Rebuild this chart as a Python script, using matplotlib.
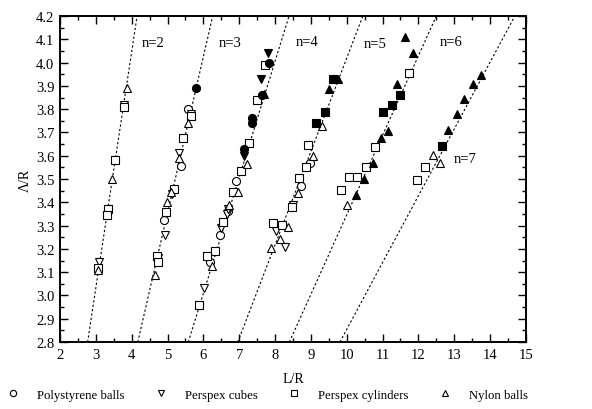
#!/usr/bin/env python3

import numpy as np
import matplotlib
matplotlib.use('Agg')
import matplotlib.pyplot as plt
from matplotlib.lines import Line2D
from matplotlib.ticker import MultipleLocator

plt.rcParams['font.family'] = ['Liberation Serif', 'DejaVu Serif']
plt.rcParams['font.size'] = 9.2

# dotted guide lines, L/R at A/R = 2.8 and at A/R = 4.2
line_n = [2, 3, 4, 5, 6, 7]
line_L_bottom = [2.77, 4.17, 5.58, 6.96, 8.40, 9.81]
line_L_top = [4.15, 6.26, 8.39, 10.45, 12.50, 14.69]
line_A = [2.8, 4.2]

label_txt = ['n=2', 'n=3', 'n=4', 'n=5', 'n=6', 'n=7']
label_L = [4.6, 6.74, 8.9, 10.79, 12.9, 13.3]
label_A = [4.087, 4.087, 4.09, 4.08, 4.09, 3.59]

# open markers (L/R, Λ/R)
poly_L = [5.56, 5.37, 4.90, 6.91, 6.70, 6.46, 6.18, 8.97, 8.71]
poly_A = [3.80, 3.557, 3.325, 3.49, 3.364, 3.26, 3.145, 3.57, 3.47]

cube_L = [3.79, 3.53, 3.35, 3.10, 5.65, 5.32, 5.13, 4.93, 4.72,
          6.65, 6.49, 6.02, 6.70, 8.04, 8.28, 8.50]
cube_A = [3.82, 3.58, 3.37, 3.145, 3.78, 3.61, 3.435, 3.26, 3.16,
          3.35, 3.288, 3.03, 3.37, 3.278, 3.207, 3.39]

cyl_L = [3.79, 3.53, 3.35, 3.30, 3.07,
         5.65, 5.42, 5.18, 4.96, 4.70, 4.72,
         7.72, 7.50, 7.28, 7.04, 6.83, 6.56, 6.32, 6.09, 5.89,
         8.93, 8.86, 8.68, 8.46, 7.95, 8.20,
         11.73, 10.79, 10.54, 10.07, 10.28, 9.84,
         11.95, 12.18]
cyl_A = [3.81, 3.58, 3.37, 3.345, 3.12,
         3.77, 3.675, 3.457, 3.357, 3.168, 3.145,
         3.99, 3.84, 3.654, 3.535, 3.445, 3.317, 3.19, 3.17, 2.96,
         3.646, 3.55, 3.504, 3.378, 3.31, 3.304,
         3.955, 3.636, 3.553, 3.507, 3.507, 3.453,
         3.496, 3.55]

nylon_L = [3.86, 3.46, 3.07,
           5.58, 5.32, 5.10, 4.99, 4.65,
           7.21, 6.97, 6.72, 6.23,
           9.30, 9.07, 8.63, 8.37, 8.14, 7.88,
           10.00,
           12.41, 12.60]
nylon_A = [3.893, 3.50, 3.11,
           3.74, 3.59, 3.445, 3.40, 3.088,
           3.564, 3.443, 3.388, 3.125,
           3.726, 3.60, 3.44, 3.295, 3.242, 3.204,
           3.388,
           3.603, 3.567]

# filled markers
fcirc_L = [5.79, 7.83, 7.63, 7.36, 7.37, 7.13]
fcirc_A = [3.89, 3.998, 3.86, 3.76, 3.74, 3.63]

fdown_L = [7.81, 7.60, 7.13]
fdown_A = [4.04, 3.93, 3.60]

fsq_L = [9.62, 9.39, 9.14, 11.48, 11.27, 11.02, 12.67]
fsq_A = [3.93, 3.79, 3.74, 3.86, 3.82, 3.79, 3.643]

fup_L = [7.68, 9.76, 9.51,
         11.62, 11.84, 11.39, 11.16, 10.95, 10.72, 10.49, 10.25,
         12.83, 13.07, 13.28, 13.51, 13.76]
fup_A = [3.865, 3.93, 3.886,
         4.11, 4.04, 3.91, 3.707, 3.675, 3.57, 3.50, 3.43,
         3.71, 3.78, 3.843, 3.91, 3.946]

fig = plt.figure(figsize=(5.92, 4.10), dpi=100)
ax = fig.add_axes([0.1014, 0.1634, 0.787, 0.795])

for lb, lt in zip(line_L_bottom, line_L_top):
    ax.plot([lb, lt], line_A, color='k', lw=0.8, ls=(0, (2.0, 2.0)))

ms = 5.8
mew = 0.8
op = dict(ls='none', mfc='white', mec='k', ms=ms, mew=mew)
fl = dict(ls='none', mfc='k', mec='k', ms=ms, mew=mew)
ax.plot(poly_L, poly_A, marker='o', **op)
ax.plot(cube_L, cube_A, marker='v', **op)
ax.plot(cyl_L, cyl_A, marker='s', **op)
ax.plot(nylon_L, nylon_A, marker='^', **op)
ax.plot(fcirc_L, fcirc_A, marker='o', **fl)
ax.plot(fdown_L, fdown_A, marker='v', **fl)
ax.plot(fsq_L, fsq_A, marker='s', **fl)
ax.plot(fup_L, fup_A, marker='^', **fl)

for t, x, y in zip(label_txt, label_L, label_A):
    ax.text(x, y, t, ha='center', va='center', fontsize=10.5)

ax.set_xlim(2, 15)
ax.set_ylim(2.8, 4.2)
ax.xaxis.set_major_locator(MultipleLocator(1))
ax.xaxis.set_minor_locator(MultipleLocator(0.5))
ax.yaxis.set_major_locator(MultipleLocator(0.1))
ax.yaxis.set_minor_locator(MultipleLocator(0.05))
ax.yaxis.set_major_formatter(plt.FormatStrFormatter('%.1f'))
ax.tick_params(which='both', direction='in', top=True, right=True, width=1)
ax.tick_params(which='major', length=6, labelsize=10.5, pad=4)
ax.tick_params(which='minor', length=3)
for s in ax.spines.values():
    s.set_linewidth(1.4)

ax.set_xlabel('L/R', fontsize=10, labelpad=8)
ax.set_ylabel('Λ/R', fontsize=10, labelpad=3)

handles = [Line2D([], [], marker=m, **dict(op, ms=4.5))
           for m in ['o', 'v', 's', '^']]
names = ['Polystyrene balls', 'Perspex cubes', 'Perspex cylinders', 'Nylon balls']
fig.legend(handles, names, loc='center', bbox_to_anchor=(0.452, 0.035),
           ncol=4, frameon=False, fontsize=9.2, handlelength=1,
           handletextpad=1.37, columnspacing=2.35, numpoints=1)

fig.savefig('out.png', dpi=100)
